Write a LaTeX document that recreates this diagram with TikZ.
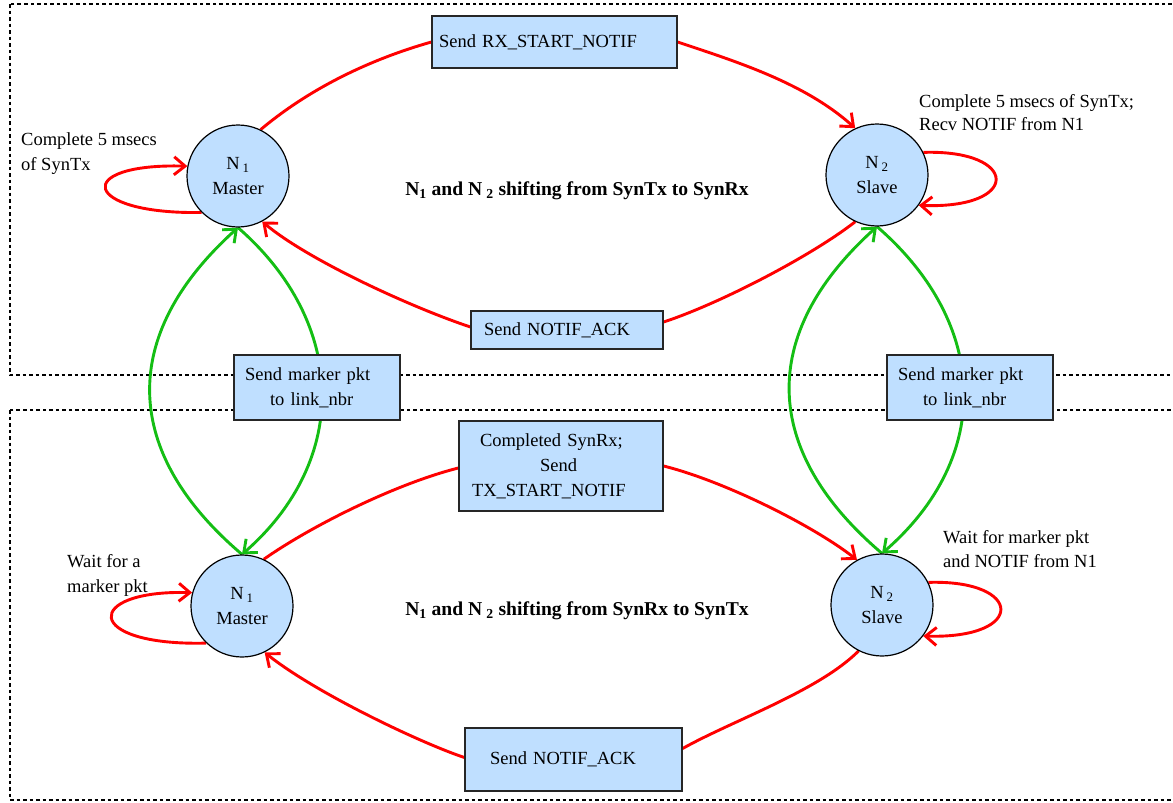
\documentclass[tikz,border=0pt]{standalone}
\usepackage{fontspec}
\setmainfont{Liberation Serif}
\usetikzlibrary{arrows.meta,backgrounds}
\definecolor{nodefill}{RGB}{191,223,255}
\definecolor{arcred}{RGB}{255,0,0}
\definecolor{arcgreen}{RGB}{20,190,20}

\begin{document}
\begin{tikzpicture}[x=1pt,y=-1pt,
  every node/.style={font=\fontsize{18.5}{25}\selectfont},
  statenode/.style={circle,draw=black,line width=1.2pt,fill=nodefill,minimum size=102pt,inner sep=0pt,align=center},
  msgbox/.style={draw=black!85,line width=1.2pt,fill=nodefill,align=left,inner ysep=0pt},
  remark/.style={inner sep=0pt,align=left},
  heading/.style={inner sep=0pt,font=\fontsize{19.6}{25}\selectfont\bfseries},
  arrowend/.style={-{Straight Barb[length=11pt,width=18pt]}},
  redarc/.style={draw=arcred,line width=2.9pt},
  greenarc/.style={draw=arcgreen,line width=2.9pt},
  zoneframe/.style={draw=black,line width=1.2pt,dash pattern=on 3.5pt off 3pt}
]
\useasboundingbox (0,0) rectangle (1173,803);
\clip (0,0) rectangle (1173,803);

% states
\node[statenode] (m1) at (238,176) {N\,\textsubscript{1}\\Master};
\node[statenode] (s1) at (877,175) {N\,\textsubscript{2}\\Slave};
\node[statenode] (m2) at (242,606) {N\,\textsubscript{1}\\Master};
\node[statenode] (s2) at (882,605) {N\,\textsubscript{2}\\Slave};

% message boxes
\node[msgbox,minimum height=52pt,text width=231pt,inner xsep=7pt] (rxstart) at (554.5,42) {Send RX\_START\_NOTIF};
\node[msgbox,minimum height=38pt,text width=166pt,inner xsep=13pt] (acktop) at (567,330) {Send NOTIF\_ACK};
\node[msgbox,minimum height=65pt,text width=144pt,inner xsep=11pt] (mkleft) at (317,387.5) {Send marker pkt\\\hspace*{25pt}to link\_nbr};
\node[msgbox,minimum height=65pt,text width=144pt,inner xsep=11pt] (mkright) at (970,387.5) {Send marker pkt\\\hspace*{25pt}to link\_nbr};
\node[msgbox,minimum height=90pt,text width=178pt,inner xsep=13pt] (txstart) at (561,466) {\hspace*{8pt}Completed SynRx;\\\hspace*{68pt}Send\\TX\_START\_NOTIF};
\node[msgbox,minimum height=63pt,text width=167pt,inner xsep=25pt] (ackbot) at (573.5,759.5) {Send NOTIF\_ACK};

% annotations (anchored at the baseline of their last line)
\node[remark,anchor=base west] (m1note) at (21,170) {Complete 5 msecs\\of SynTx};
\node[remark,anchor=base west,font=\fontsize{18.5}{23}\selectfont] (s1note) at (919,130) {Complete 5 msecs of SynTx;\\Recv NOTIF from N1};
\node[remark,anchor=base west] (m2note) at (67,592) {Wait for a\\marker pkt};
\node[remark,anchor=base west,font=\fontsize{18.5}{24}\selectfont] (s2note) at (943,567) {Wait for marker pkt\\and NOTIF from N1};
\node[heading,anchor=base] (toptitle) at (577,195) {N\textsubscript{1} and N\hspace{4pt}\textsubscript{2} shifting from SynTx to SynRx};
\node[heading,anchor=base] (bottitle) at (577,615) {N\textsubscript{1} and N\hspace{4pt}\textsubscript{2} shifting from SynRx to SynTx};

\begin{scope}[on background layer]
  % phase frames
  \draw[zoneframe] (10,4) rectangle (1185,375);
  \draw[zoneframe] (10,410) rectangle (1185,800);
  % marker exchange
  \draw[greenarc,arrowend] (m2.north) .. controls +(-120,-102) and +(-120,108) .. (m1.south);
  \draw[greenarc,arrowend] (m1.south) .. controls +(109,95) and +(109,-95) .. (m2.north);
  \draw[greenarc,arrowend] (s2.north) .. controls +(-120,-102) and +(-120,108) .. (s1.south);
  \draw[greenarc,arrowend] (s1.south) .. controls +(112,97) and +(112,-97) .. (s2.north);
  % SynTx -> SynRx
  \draw[redarc] (m1.64) .. controls +(50,-42) and +(-60,17) .. (rxstart.west);
  \draw[redarc,arrowend] (rxstart.east) .. controls +(60,20) and +(-50,-45) .. (s1.115);
  \draw[redarc] (s1.245) .. controls +(-45,35) and +(55,-18) .. ([yshift=8pt]acktop.east);
  \draw[redarc,arrowend] ([yshift=3pt]acktop.west) .. controls +(-60,-20) and +(45,38) .. (m1.298);
  % SynRx -> SynTx
  \draw[redarc] (m2.65) .. controls +(50,-35) and +(-60,15) .. ([yshift=-2pt]txstart.west);
  \draw[redarc,arrowend] (txstart.east) .. controls +(60,15) and +(-45,-35) .. (s2.119);
  \draw[redarc] (s2.243) .. controls +(-40,40) and +(50,-28) .. ([yshift=11pt]ackbot.east);
  \draw[redarc,arrowend] ([yshift=2pt]ackbot.west) .. controls +(-45,-15) and +(50,40) .. (m2.296);
  % self loops
  \draw[redarc,arrowend] (m1.225) .. controls +(-120,2) and +(-116,-3) .. (m1.169);
  \draw[redarc,arrowend] (s1.26) .. controls +(96,-3) and +(103,4) .. (s1.-36);
  \draw[redarc,arrowend] (m2.226) .. controls +(-124,3) and +(-109,-3) .. (m2.165);
  \draw[redarc,arrowend] (s2.26) .. controls +(95,-3) and +(104,3) .. (s2.-37);
\end{scope}
\end{tikzpicture}
\end{document}
